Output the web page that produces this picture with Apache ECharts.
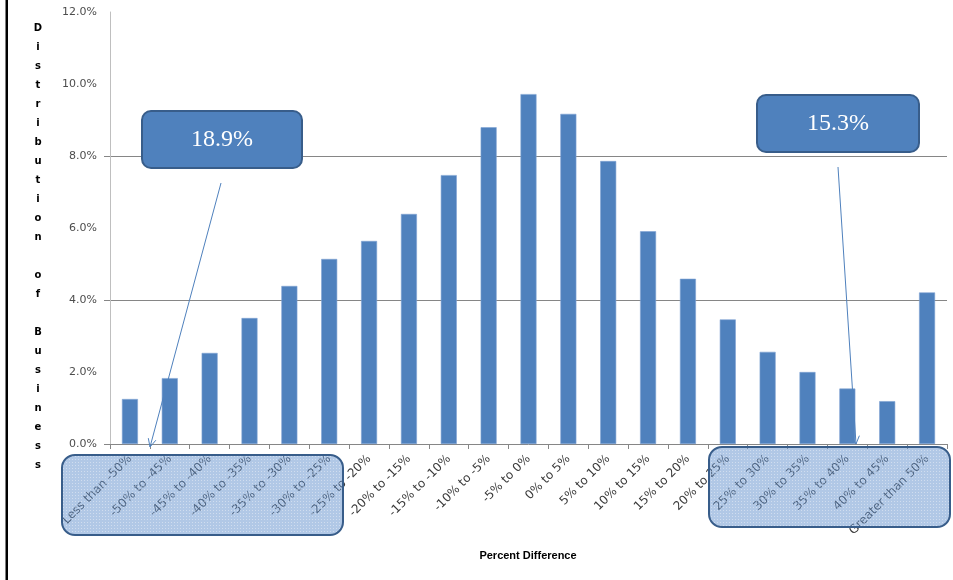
<!DOCTYPE html>
<html>
<head>
<meta charset="utf-8">
<style>
  html, body { margin: 0; padding: 0; background: #fff; }
  #chart { width: 953px; height: 580px; }
</style>
<script src="https://cdn.jsdelivr.net/npm/echarts@6/dist/echarts.min.js"></script>
</head>
<body>
<div id="chart"></div>
<script>
// Percent-difference buckets (x axis)
const categories = [
  'Less than -50%', '-50% to -45%', '-45% to -40%', '-40% to -35%', '-35% to -30%',
  '-30% to -25%', '-25% to -20%', '-20% to -15%', '-15% to -10%', '-10% to -5%',
  '-5% to 0%', '0% to 5%', '5% to 10%', '10% to 15%', '15% to 20%',
  '20% to 25%', '25% to 30%', '30% to 35%', '35% to 40%', '40% to 45%',
  'Greater than 50%'
];

// Share of businesses in each bucket, in percent
const shares = [
  1.25, 1.83, 2.53, 3.50, 4.39,
  5.14, 5.64, 6.39, 7.47, 8.80,
  9.72, 9.17, 7.86, 5.91, 4.59,
  3.46, 2.56, 2.00, 1.54, 1.19,
  4.21
];

// Y axis tick labels
const yTicks = [0, 2, 4, 6, 8, 10, 12];

// Callout totals for the two tails
const calloutTexts = ['18.9%', '15.3%'];

const yTitle = 'Distribution of Business';
const xTitle = 'Percent Difference';

const BAR = '#4F81BD';
const EDGE = '#385D8A';

// dotted fill used for the tail highlight boxes
function dotPattern() {
  const c = document.createElement('canvas');
  c.width = 3; c.height = 3;
  const g = c.getContext('2d');
  g.fillStyle = 'rgba(100,145,205,0.5)';
  g.fillRect(0, 0, 3, 3);
  g.fillStyle = 'rgba(255,255,255,0.4)';
  g.fillRect(0, 0, 1, 1);
  return { image: c, repeat: 'repeat' };
}

// thin connector with an open arrow head at its end
function arrow(x1, y1, x2, y2) {
  const a = Math.atan2(y2 - y1, x2 - x1);
  const L = 9, s = 0.45;
  const p1 = [x2 - L * Math.cos(a - s), y2 - L * Math.sin(a - s)];
  const p2 = [x2 - L * Math.cos(a + s), y2 - L * Math.sin(a + s)];
  return [
    { type: 'line', z: 110, shape: { x1, y1, x2, y2 }, style: { stroke: BAR, lineWidth: 1 } },
    { type: 'polyline', z: 110, shape: { points: [p1, [x2, y2], p2] }, style: { stroke: BAR, lineWidth: 1, fill: null } }
  ];
}

function callout(x, y, w, h, text) {
  return [
    { type: 'rect', z: 110, shape: { x, y, width: w, height: h, r: 9 },
      style: { fill: BAR, stroke: EDGE, lineWidth: 2 } },
    { type: 'text', z: 111, x: x + w / 2, y: y + h / 2,
      style: { text, fill: '#fff', font: '24px "Liberation Serif", serif', align: 'center', verticalAlign: 'middle' } }
  ];
}

const chart = echarts.init(document.getElementById('chart'));
const pattern = dotPattern();

const graphics = [
  // left frame edge
  { type: 'rect', z: 120, shape: { x: 5.5, y: 0, width: 2.5, height: 580 }, style: { fill: '#000' } },
  // vertical axis title, one letter per line
  { type: 'text', z: 50, x: 38, y: 19,
    style: { text: yTitle.split('').join('\n'), fill: '#000', font: 'bold 10px "DejaVu Sans", sans-serif',
             align: 'center', verticalAlign: 'top', lineHeight: 19 } },
  { type: 'text', z: 50, x: 528, y: 556,
    style: { text: xTitle, fill: '#000', font: 'bold 11px "Liberation Sans", sans-serif', align: 'center', verticalAlign: 'middle' } },
  // highlighted tails
  { type: 'rect', z: 100, shape: { x: 62, y: 455, width: 281, height: 80, r: 13 },
    style: { fill: pattern, stroke: EDGE, lineWidth: 2 } },
  { type: 'rect', z: 100, shape: { x: 709, y: 447, width: 241, height: 80, r: 13 },
    style: { fill: pattern, stroke: EDGE, lineWidth: 2 } }
]
  .concat(callout(142, 111, 160, 57, calloutTexts[0]))
  .concat(callout(757, 95, 162, 57, calloutTexts[1]))
  .concat(arrow(221, 183, 150, 447))
  .concat(arrow(838, 167, 856, 444));

chart.setOption({
  animation: false,
  backgroundColor: '#fff',
  grid: { left: 110, right: 6, top: 12, bottom: 136, containLabel: false },
  xAxis: {
    type: 'category',
    data: categories,
    axisLine: { lineStyle: { color: '#868686', width: 1 } },
    axisTick: { show: true, alignWithLabel: false, length: 5, lineStyle: { color: '#868686' } },
    axisLabel: {
      interval: 0, rotate: 45, margin: 13,
      color: '#3a3a3a', fontSize: 12, fontFamily: '"DejaVu Sans", sans-serif'
    }
  },
  yAxis: [
    {
      type: 'value', min: 0, max: 12, interval: 2,
      axisLine: { show: true, lineStyle: { color: '#BFBFBF' } },
      axisTick: { show: true, length: 6, customValues: [0, 4, 8], lineStyle: { color: '#868686' } },
      axisLabel: {
        margin: 13, color: '#4d4d4d', fontSize: 11, fontFamily: '"DejaVu Sans", sans-serif',
        customValues: yTicks,
        formatter: v => v.toFixed(1) + '%'
      },
      splitLine: { show: false }
    },
    {
      type: 'value', min: 0, max: 12, interval: 4, position: 'left',
      axisLine: { show: false }, axisTick: { show: false }, axisLabel: { show: false },
      splitLine: { show: true, showMinLine: false, showMaxLine: false, lineStyle: { color: '#868686', width: 1 } }
    }
  ],
  series: [{
    type: 'bar',
    yAxisIndex: 0,
    data: shares,
    barWidth: 16,
    itemStyle: { color: BAR, borderColor: '#7FA3D3', borderWidth: 0.6 },
    z: 5
  }],
  graphic: graphics
});
</script>
</body>
</html>
